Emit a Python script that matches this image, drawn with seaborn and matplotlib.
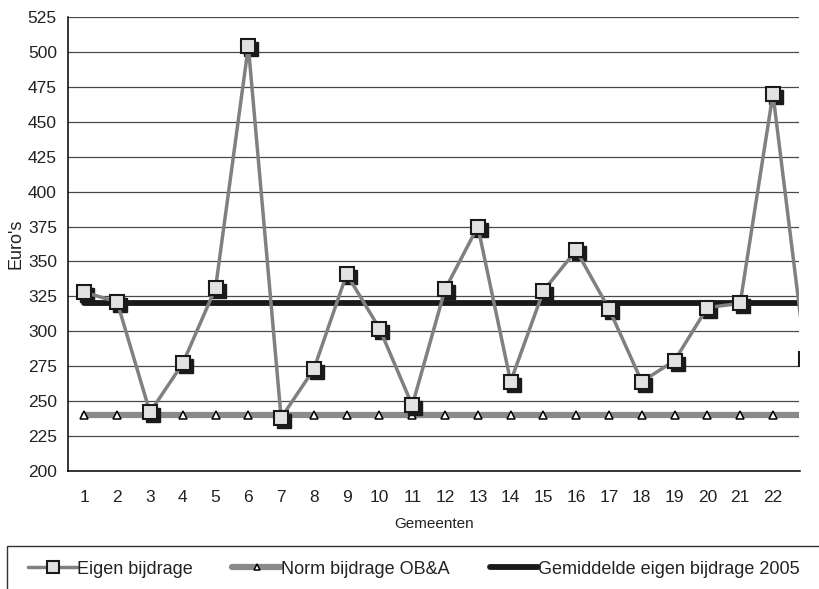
import matplotlib
matplotlib.use("Agg")
import matplotlib.pyplot as plt
import matplotlib.transforms as mtransforms
from matplotlib.lines import Line2D
from matplotlib.patches import Rectangle
import numpy as np
import pandas as pd
import seaborn as sns

# Data
gemeenten = list(range(1, 24))
eigen_bijdrage = [328, 321, 242, 277, 331, 504, 238, 273, 341, 302, 247, 330,
                  375, 264, 329, 358, 316, 264, 279, 317, 320, 470, 280]
norm_bijdrage = [240] * 23
gemiddelde_2005 = [320] * 23
y_ticks = list(range(200, 526, 25))
x_labels = [str(g) for g in gemeenten[:22]]

df = pd.DataFrame({"Gemeente": gemeenten,
                   "Eigen": eigen_bijdrage,
                   "Norm": norm_bijdrage,
                   "Gem": gemiddelde_2005})

sns.set_style("white")
plt.rcParams["font.family"] = ["Liberation Sans", "DejaVu Sans"]

fig = plt.figure(figsize=(8.2, 5.89), dpi=100)
ax = fig.add_axes([68 / 820, 1 - 471 / 589, (799.5 - 68) / 820, (471 - 17) / 589])

# reference lines
sns.lineplot(data=df, x="Gemeente", y="Norm", ax=ax, color="#8a8a8a", lw=4.5,
             marker="^", markersize=6, markerfacecolor="white",
             markeredgecolor="black", markeredgewidth=1.1, zorder=3)
sns.lineplot(data=df, x="Gemeente", y="Gem", ax=ax, color="#1a1a1a", lw=4.2, zorder=4)

# eigen bijdrage with shadowed square markers
shadow = mtransforms.offset_copy(ax.transData, fig=fig, x=3, y=-3, units="dots")
ax.plot(df["Gemeente"], df["Eigen"], ls="none", marker="s", markersize=10,
        color="#1a1a1a", transform=shadow, zorder=5)
sns.lineplot(data=df, x="Gemeente", y="Eigen", ax=ax, color="#808080", lw=2.5,
             marker="s", markersize=10, markerfacecolor="#e2e2e2",
             markeredgecolor="#1a1a1a", markeredgewidth=1.5, zorder=6)

ax.set_yticks(y_ticks)
ax.set_xticks(np.arange(0.5, 23, 1))
ax.set_xticklabels([])
ax.set_xticks(gemeenten[:22], minor=True)
ax.set_xticklabels(x_labels, minor=True)
ax.set_xlim(0.5, 22.81)
ax.set_ylim(200, 525)
ax.tick_params(axis="x", which="major", direction="out", length=5, width=1, color="black")
ax.tick_params(axis="x", which="minor", length=0, pad=14, labelsize=12.5, labelcolor="#222222")
ax.tick_params(axis="y", direction="out", length=5, width=1, color="black",
               labelsize=12.5, labelcolor="#222222", pad=3)
ax.yaxis.grid(True, color="#4a4a4a", lw=0.9)
ax.set_axisbelow(True)
for s in ["top", "right"]:
    ax.spines[s].set_visible(False)
for s in ["left", "bottom"]:
    ax.spines[s].set_color("black")
    ax.spines[s].set_linewidth(1.1)

ax.set_xlabel("Gemeenten", fontsize=11, color="#222222", labelpad=8)
ax.set_ylabel("Euro's", fontsize=13, color="#222222", labelpad=2)

# legend box cut off at the figure edge, like the reference
fig.patches.append(Rectangle((7.5 / 820, -0.05), 1.0, 0.05 + 1 - 545.5 / 589,
                             transform=fig.transFigure, fill=False,
                             edgecolor="#333333", lw=1.0))
handles = [
    Line2D([], [], color="#808080", lw=2.5, marker="s", markersize=9,
           markerfacecolor="#e2e2e2", markeredgecolor="#1a1a1a", markeredgewidth=1.5),
    Line2D([], [], color="#8a8a8a", lw=4.5, marker="^", markersize=5,
           markerfacecolor="white", markeredgecolor="black", markeredgewidth=1.1),
    Line2D([], [], color="#1a1a1a", lw=4.2),
]
labels = ["Eigen bijdrage", "Norm bijdrage OB&A", "Gemiddelde eigen bijdrage 2005"]
fig.legend(handles, labels, loc="center left", bbox_to_anchor=(12 / 820, 1 - 569 / 589),
           ncol=3, frameon=False, fontsize=13, handlelength=2.7, handletextpad=0.0,
           columnspacing=2.2, labelcolor="#222222")

fig.savefig("out.png", dpi=100)
